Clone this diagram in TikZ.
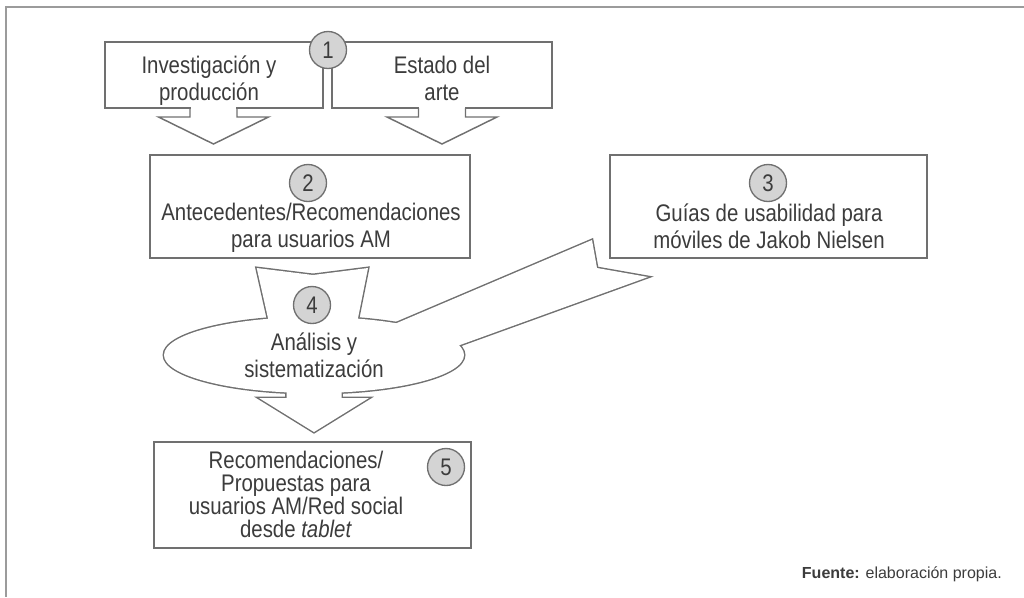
\documentclass[tikz,border=0pt]{standalone}
\usepackage{fontspec}
\setmainfont{Liberation Sans}[FakeStretch=0.85]
\newfontfamily\srcfont{Liberation Sans}
\definecolor{lineg}{RGB}{112,112,112}
\definecolor{circg}{RGB}{212,212,212}
\definecolor{txtg}{RGB}{60,60,60}
\definecolor{frameg}{RGB}{155,155,155}

\tikzset{
	box/.style={draw=lineg, fill=white, line width=1.1pt, inner sep=0pt},
	txt/.style={align=center, text=txtg, inner sep=0pt, font=\fontsize{18}{20.25}\selectfont},
	num/.style={circle, draw=lineg, fill=circg, line width=1pt, minimum size=27.75pt,
		inner sep=0pt, text=txtg, font=\fontsize{18}{20}\selectfont},
	blk/.style={draw=lineg, line width=1.1pt},
	hubline/.style={draw=lineg, line width=2.2pt},
	hubfill/.style={fill=white}
}

\begin{document}
\begin{tikzpicture}[x=0.75pt,y=-0.75pt]
	\useasboundingbox (0,0) rectangle (1024,597);
	\draw [frameg, line width=1.5pt] (1024,6.5) -- (5.5,6.5) -- (5.5,597);

	% boxes
	\node [box, minimum width=163.5pt, minimum height=49.5pt] (inv) at (214,75) {};
	\node [box, minimum width=165pt, minimum height=49.5pt] (art) at (442,75) {};
	\node [box, minimum width=240pt, minimum height=77.25pt] (ante) at (310,206.5) {};
	\node [box, minimum width=237.75pt, minimum height=77.25pt] (guia) at (768.5,206.5) {};
	\node [box, minimum width=237.75pt, minimum height=79.5pt] (prop) at (312.5,495) {};

	% block arrows below the first row
	\foreach \cx in {213.5,442} {
		\fill [white] (\cx-22.6,106.5) rectangle (\cx+22.6,109.5);
		\draw [blk] (\cx-23.5,108) -- (\cx-23.5,117) -- (\cx-55,117) -- (\cx,144)
		-- (\cx+55,117) -- (\cx+23.5,117) -- (\cx+23.5,108);
	}

	% ellipse with its in- and outgoing arrows
	\foreach \look in {hubline,hubfill} {
		\path [\look] (314,355) ellipse (150 and 38);
		\path [\look] (256.7,268) -- (313,275) -- (368,268) -- (354.6,335) -- (271.8,335) -- cycle;
		\path [\look] (371,334) -- (592,240) -- (597,268) -- (648,277) -- (431.8,355.2) -- cycle;
		\path [\look] (286.5,380) -- (286.5,398) -- (259,398) -- (314,432)
		-- (369,398) -- (341.5,398) -- (341.5,380) -- cycle;
	}

	% texts
	\node [txt] (tinv) at (209,80.5) {Investigación y\\producción};
	\node [txt] (tart) at (442,78) {Estado del\\arte};
	\node [txt] (tante) at (311,228) {Antecedentes/Recomendaciones\\para usuarios AM};
	\node [txt] (tguia) at (769,226) {Guías de usabilidad para\\móviles de Jakob Nielsen};
	\node [txt] (tana) at (314,355) {Análisis y\\sistematización};
	\node [txt, font=\fontsize{18}{17.25}\selectfont] (tprop) at (296,494)
	{Recomendaciones/\\Propuestas para\\usuarios AM/Red social\\desde \textit{tablet}};

	% step numbers
	\node [num] (n1) at (328,50) {1};
	\node [num] (n2) at (308,183) {2};
	\node [num] (n3) at (768,183) {3};
	\node [num] (n4) at (312,305) {4};
	\node [num] (n5) at (446,467) {5};

	\node [anchor=base east, inner sep=0pt, text=txtg, font=\srcfont\fontsize{12}{14}\selectfont]
	(src) at (1002,578) {\textbf{Fuente:} elaboración propia.};
\end{tikzpicture}
\end{document}
